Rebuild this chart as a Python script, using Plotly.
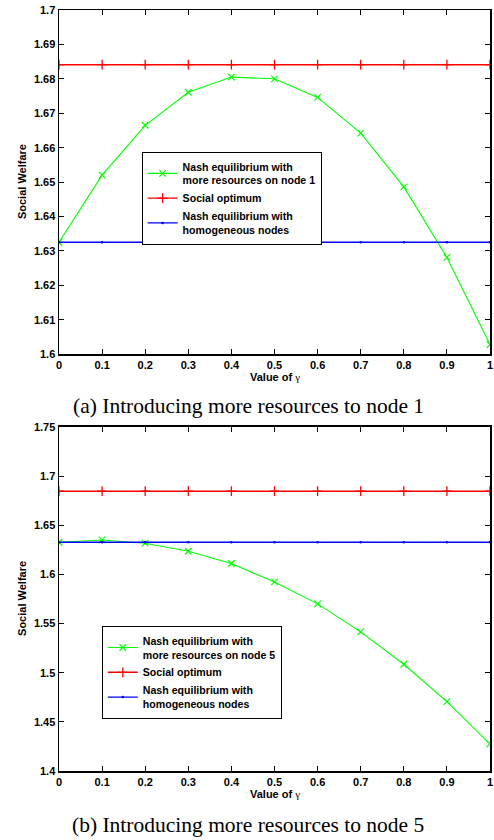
import plotly.graph_objects as go

gamma = [0, 0.1, 0.2, 0.3, 0.4, 0.5, 0.6, 0.7, 0.8, 0.9, 1.0]
x_ticklabels = ["0", "0.1", "0.2", "0.3", "0.4", "0.5", "0.6", "0.7", "0.8", "0.9", "1"]

# (a) more resources on node 1
nash_node1 = [1.6325, 1.6520, 1.6665, 1.6761, 1.6805, 1.6800, 1.6746, 1.6642, 1.6486, 1.6281, 1.6028]
social_opt_a = [1.6841] * 11
homog_a = [1.6325] * 11
yticks_a = [1.60, 1.61, 1.62, 1.63, 1.64, 1.65, 1.66, 1.67, 1.68, 1.69, 1.70]
yticklabels_a = ["1.6", "1.61", "1.62", "1.63", "1.64", "1.65", "1.66", "1.67", "1.68", "1.69", "1.7"]

# (b) more resources on node 5
nash_node5 = [1.6327, 1.6350, 1.6317, 1.6235, 1.6110, 1.5923, 1.5700, 1.5415, 1.5086, 1.4706, 1.4275]
social_opt_b = [1.6846] * 11
homog_b = [1.6327] * 11
yticks_b = [1.40, 1.45, 1.50, 1.55, 1.60, 1.65, 1.70, 1.75]
yticklabels_b = ["1.4", "1.45", "1.5", "1.55", "1.6", "1.65", "1.7", "1.75"]

names_a = ["Nash equilibrium with<br>more resources on node 1", "Social optimum",
           "Nash equilibrium with<br>homogeneous nodes"]
names_b = ["Nash equilibrium with<br>more resources on node 5", "Social optimum",
           "Nash equilibrium with<br>homogeneous nodes"]

GREEN, RED, BLUE = "#00ff00", "#ff0000", "#0000ff"
FONT = "Liberation Sans, Arial, sans-serif"
SERIF = "Liberation Serif, Times New Roman, serif"

fig = go.Figure()

def add_set(xa, ya, leg, ys, names):
    nash, opt, hom = ys
    fig.add_trace(go.Scatter(x=gamma, y=nash, name=names[0], mode="lines+markers",
                             line=dict(color=GREEN, width=1.1),
                             marker=dict(symbol="x-thin-open", size=6.5, line=dict(color=GREEN, width=1.2)),
                             xaxis=xa, yaxis=ya, legend=leg))
    fig.add_trace(go.Scatter(x=gamma, y=opt, name=names[1], mode="lines+markers",
                             line=dict(color=RED, width=1.4),
                             marker=dict(symbol="cross-thin-open", size=7, line=dict(color=RED, width=1.3)),
                             xaxis=xa, yaxis=ya, legend=leg))
    fig.add_trace(go.Scatter(x=gamma, y=hom, name=names[2], mode="lines+markers",
                             line=dict(color=BLUE, width=1.4),
                             marker=dict(symbol="circle", size=2.5, color=BLUE),
                             xaxis=xa, yaxis=ya, legend=leg))

add_set("x", "y", "legend", (nash_node1, social_opt_a, homog_a), names_a)
add_set("x2", "y2", "legend2", (nash_node5, social_opt_b, homog_b), names_b)

axis_common = dict(showline=True, linecolor="black", linewidth=1.5, mirror="ticks",
                   ticks="inside", ticklen=5, tickcolor="black", tickwidth=1,
                   showgrid=False, zeroline=False,
                   tickfont=dict(family=FONT, size=11, color="black", weight="bold"))

top_dom = [0.5478, 1.0]
bot_dom = [0.0, 0.4522]

legend_font = dict(family=FONT, size=10.6, color="black", weight="bold")

fig.update_layout(
    width=494, height=840,
    margin=dict(l=59, r=2, t=10, b=69),
    paper_bgcolor="white", plot_bgcolor="white",
    xaxis=dict(domain=[0, 1], anchor="y", range=[0, 1], tickvals=gamma, ticktext=x_ticklabels, **axis_common),
    yaxis=dict(domain=top_dom, anchor="x", range=[1.6, 1.7], tickvals=yticks_a, ticktext=yticklabels_a, **axis_common),
    xaxis2=dict(domain=[0, 1], anchor="y2", range=[0, 1], tickvals=gamma, ticktext=x_ticklabels, **axis_common),
    yaxis2=dict(domain=bot_dom, anchor="x2", range=[1.4, 1.75], tickvals=yticks_b, ticktext=yticklabels_b, **axis_common),
    legend=dict(x=0.1917, y=0.8133, xanchor="left", yanchor="top",
                bordercolor="black", borderwidth=1, bgcolor="white",
                font=legend_font, tracegroupgap=0, itemwidth=30),
    legend2=dict(x=0.0993, y=0.1902, xanchor="left", yanchor="top",
                 bordercolor="black", borderwidth=1, bgcolor="white",
                 font=legend_font, tracegroupgap=0, itemwidth=30),
    showlegend=True,
)

H = 760.7
def py(pix):
    return (770.7 - pix) / H

gamma_label = ('Value of <span style="font-family:Liberation Serif, Times New Roman, serif;'
               'font-weight:normal">γ</span>')

ann = []
for yc, txt in [((10 + 354) / 2, "Social Welfare"), ((426.7 + 770.7) / 2, "Social Welfare")]:
    ann.append(dict(x=0, y=py(yc), xref="paper", yref="paper", xshift=-37, text=txt, textangle=-90,
                    showarrow=False, xanchor="center", yanchor="middle",
                    font=dict(family=FONT, size=11, color="black", weight="bold")))
for ypix in [377, 793.7]:
    ann.append(dict(x=0.5, y=py(ypix), xref="paper", yref="paper", text=gamma_label,
                    showarrow=False, xanchor="center", yanchor="middle",
                    font=dict(family=FONT, size=11, color="black", weight="bold")))
for ypix, txt in [(406, "(a) Introducing more resources to node 1"),
                  (825, "(b) Introducing more resources to node 5")]:
    ann.append(dict(x=(249 - 59) / 433, y=py(ypix), xref="paper", yref="paper", text=txt,
                    showarrow=False, xanchor="center", yanchor="middle",
                    font=dict(family=SERIF, size=21.5, color="black")))
fig.update_layout(annotations=ann)

fig.write_html("out.html",
               config={"displayModeBar": False, "staticPlot": True},
               post_script="document.body.style.margin='0';document.body.style.overflow='hidden';")
